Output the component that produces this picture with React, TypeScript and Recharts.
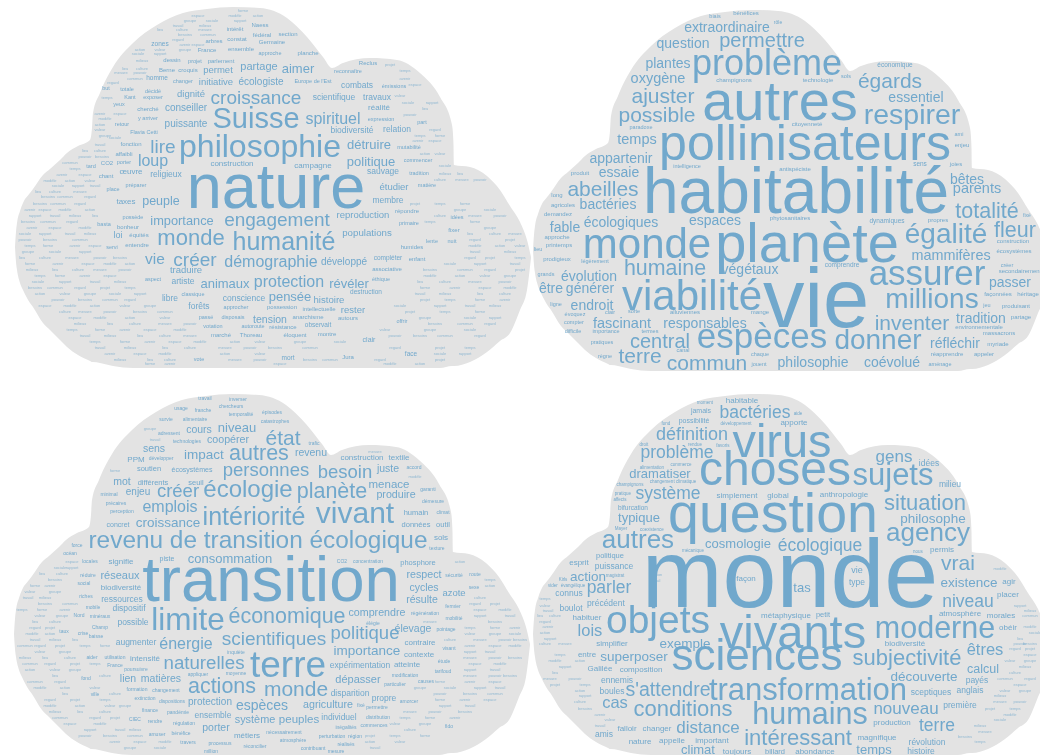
import { Area, AreaChart, Scatter, ScatterChart, XAxis, YAxis } from "recharts";

type WordRow = [string, number, number, number];
type TinyRow = [number, ...number[]];

const WIDTH = 1040;
const HEIGHT = 755;
const CLOUD = "#e3e3e3";
const INK = "#71a8cc";

// cloud outline of the top-left panel: x, upper edge, lower edge
const cloudOutline = [
  [15, 247, 247], [16, 232, 262], [17, 223, 270], [20, 211, 283], [23, 203, 290], [30, 193, 303],
  [33, 189, 307], [43, 175, 323], [50, 169, 330], [60, 160, 340], [67, 153, 347], [78, 146, 355],
  [90, 140, 361], [92, 128, 362], [93, 113, 362], [100, 93, 363], [113, 67, 366], [133, 43, 368],
  [157, 25, 368], [183, 13, 368], [207, 9, 368], [233, 7, 368], [260, 8, 368], [287, 18, 368],
  [307, 37, 368], [323, 57, 368], [332, 68, 368], [343, 63, 368], [370, 58, 368], [397, 60, 368],
  [420, 73, 368], [440, 97, 368], [452, 125, 366], [453.5, 145, 366], [454, 165, 366], [470, 167, 362],
  [487, 176, 352], [500, 190, 341], [510, 206, 333], [520, 222, 310], [527, 240, 290], [531, 257, 258],
];

const cloudOffsets = [
  [0, 0],
  [518, 3],
  [-1, 387],
  [518, 387],
];

const natureWords: WordRow[] = [
  ["nature", 276, 208, 63], ["philosophie", 260, 157, 32], ["Suisse", 256, 128, 29], ["croissance", 256, 104, 19],
  ["humanité", 284, 250, 25], ["engagement", 277, 226, 19], ["monde", 191, 245, 22], ["créer", 195, 266, 19],
  ["démographie", 271, 267, 16], ["protection", 289, 287, 16], ["vie", 155, 264, 15.5], ["lire", 163, 153, 19],
  ["loup", 153, 166, 16], ["spirituel", 333, 124, 16], ["détruire", 369, 149, 13], ["politique", 371, 166, 13],
  ["aimer", 298, 73, 13], ["peuple", 161, 205, 12.5], ["importance", 182, 225, 12.8], ["animaux", 225, 288, 13],
  ["révéler", 349, 288, 13], ["pensée", 290, 301, 13], ["partage", 259, 70, 11], ["permet", 218, 73, 9.5],
  ["initiative", 216, 85, 9.5], ["écologiste", 261, 85, 10], ["dignité", 191, 97, 9.5], ["conseiller", 186, 111, 10],
  ["puissante", 186, 127, 10], ["construction", 232, 166, 8], ["œuvre", 131, 174, 8], ["religieux", 166, 177, 8.5],
  ["taxes", 126, 204, 8], ["combats", 357, 88, 8.5], ["scientifique", 334, 100, 8.5], ["travaux", 377, 100, 8.5],
  ["réalité", 379, 110, 8], ["biodiversité", 352, 133, 8.5], ["relation", 397, 132, 8.5], ["campagne", 313, 168, 8],
  ["sauvage", 383, 174, 8.5], ["étudier", 394, 190, 9.5], ["membre", 388, 203, 8.5], ["reproduction", 363, 218, 9.5],
  ["populations", 367, 236, 9.7], ["développé", 344, 265, 10], ["traduire", 186, 273, 9.5], ["artiste", 183, 284, 8.5],
  ["libre", 170, 301, 8.5], ["conscience", 244, 301, 8.5], ["histoire", 329, 303, 9.6], ["forêts", 199, 309, 8.5],
  ["rester", 353, 313, 9.5], ["tension", 270, 323, 10.5], ["intérêt", 235, 31, 6], ["Naess", 260, 27, 6],
  ["fédéral", 262, 37, 6], ["arbres", 214, 43, 6], ["constat", 237, 41, 6], ["Germaine", 272, 44, 6],
  ["zones", 160, 46, 6.5], ["France", 207, 52, 6], ["ensemble", 241, 51, 6], ["dessin", 172, 62, 6],
  ["projet", 195, 63, 5.5], ["parlement", 221, 63, 6], ["approche", 270, 55, 5.5], ["planche", 308, 55, 6],
  ["Berne", 167, 72, 6], ["croquis", 188, 72, 6], ["homme", 157, 80, 6.5], ["changer", 183, 83, 5.5],
  ["but", 106, 90, 5.5], ["totale", 127, 91, 5.5], ["décidé", 153, 93, 5.5], ["Kant", 130, 99, 5.5],
  ["exposer", 153, 99, 5.5], ["yeux", 119, 106, 5.5], ["cherché", 148, 111, 6], ["y arriver", 148, 120, 5.5],
  ["retour", 122, 126, 5.5], ["Flavia Cetti", 144, 134, 5.5], ["fonction", 131, 146, 6], ["affaibli", 124, 156, 6],
  ["CO2", 107, 165, 6], ["tard", 91, 168, 5.5], ["porter", 124, 164, 5.5], ["chant", 106, 178, 6],
  ["préparer", 136, 187, 5.5], ["place", 113, 191, 5.5], ["section", 288, 36, 6], ["Reclus", 368, 65, 6],
  ["reconnaître", 348, 73, 5.5], ["Europe de l'Est", 313, 83, 5.5], ["émissions", 394, 88, 5.5], ["expression", 381, 121, 5.5],
  ["part", 422, 124, 5.5], ["mutabilité", 409, 149, 5.5], ["commencer", 418, 162, 5.5], ["tradition", 419, 175, 5.5],
  ["matière", 427, 187, 5.5], ["possède", 133, 219, 5.5], ["basta", 104, 226, 5.5], ["bonheur", 128, 229, 6],
  ["loi", 118, 238, 9], ["équités", 139, 237, 6], ["entendre", 137, 247, 6], ["servi", 112, 249, 5.5],
  ["aspect", 153, 281, 5.5], ["classique", 193, 296, 5.5], ["destruction", 366, 294, 6.5], ["approcher", 236, 309, 5.5],
  ["possession", 282, 309, 6], ["intellectuelle", 319, 311, 6], ["passé", 206, 319, 5.5], ["disposais", 233, 319, 5.5],
  ["anarchisme", 308, 319, 6], ["autours", 348, 320, 6], ["votation", 213, 328, 5.5], ["autoroute", 253, 328, 5.5],
  ["résistance", 283, 329, 6], ["observait", 318, 327, 6.5], ["offrir", 402, 323, 5.5], ["marché", 221, 337, 6],
  ["Thoreau", 251, 337, 6], ["éloquent", 295, 337, 6], ["montre", 327, 336, 6], ["clair", 369, 342, 7],
  ["vote", 199, 361, 5.5], ["mort", 288, 360, 6.5], ["Jura", 348, 359, 6], ["face", 411, 356, 6.5],
  ["répondre", 407, 213, 6], ["primaire", 409, 225, 5.5], ["idées", 457, 219, 5.5], ["fixer", 454, 232, 6],
  ["lente", 432, 243, 5.5], ["nuit", 452, 243, 5.5], ["humides", 412, 249, 6], ["compléter", 388, 260, 6.5],
  ["enfant", 417, 261, 6], ["associative", 387, 271, 6], ["éthique", 381, 281, 5.5],
];

const habitabiliteWords: WordRow[] = [
  ["vie", 816, 327, 83], ["habitabilité", 796, 213, 64], ["autres", 780, 120, 56], ["planète", 807, 262, 56],
  ["pollinisateurs", 805, 160, 50], ["viabilité", 692, 310, 42], ["monde", 647, 258, 42], ["problème", 767, 75, 36],
  ["espèces", 762, 348, 35], ["assurer", 927, 285, 35], ["respirer", 912, 124, 28.5], ["donner", 878, 349, 28],
  ["égalité", 946, 243, 28], ["millions", 932, 308, 28], ["humaine", 665, 275, 21.4], ["totalité", 987, 218, 21.5],
  ["fleur", 1015, 237, 21.5], ["égards", 890, 88, 21], ["ajuster", 663, 103, 21], ["possible", 657, 122, 21],
  ["inventer", 912, 330, 21], ["terre", 640, 363, 21], ["commun", 707, 370, 21], ["abeilles", 603, 196, 21],
  ["permettre", 762, 47, 20], ["central", 660, 348, 20], ["mammifères", 951, 260, 14.4], ["extraordinaire", 727, 32, 14],
  ["question", 683, 48, 14], ["plantes", 668, 68, 14], ["oxygène", 658, 83, 14.5], ["essentiel", 916, 102, 14],
  ["temps", 637, 144, 14.5], ["appartenir", 621, 163, 14], ["essaie", 619, 177, 14], ["bêtes", 967, 184, 14],
  ["parents", 977, 193, 14.5], ["bactéries", 608, 209, 14], ["fable", 565, 232, 14], ["écologiques", 621, 227, 14],
  ["espaces", 715, 225, 14], ["végétaux", 750, 274, 14], ["passer", 1010, 287, 14], ["évolution", 589, 281, 14],
  ["être", 551, 293, 14], ["générer", 590, 293, 14], ["endroit", 592, 310, 14], ["fascinant", 622, 328, 14.5],
  ["responsables", 705, 328, 14], ["tradition", 981, 323, 14], ["réfléchir", 955, 348, 14], ["philosophie", 813, 367, 14],
  ["coévolué", 892, 367, 14], ["biais", 715, 18, 5.5], ["bénéfices", 746, 15, 6], ["rôle", 778, 24, 5],
  ["champignons", 734, 82, 6], ["technologie", 818, 82, 6], ["sols", 846, 78, 5.5], ["économique", 895, 67, 6.5],
  ["paradoxe", 641, 129, 5.5], ["citoyenneté", 807, 126, 6], ["ami", 959, 136, 5.5], ["enjeu", 962, 147, 6],
  ["produit", 580, 175, 6], ["intelligence", 687, 168, 5.5], ["antispéciste", 795, 171, 6], ["sens", 920, 166, 6.5],
  ["joies", 956, 166, 6], ["long", 557, 197, 6], ["agricoles", 563, 207, 6], ["demandez", 558, 216, 6],
  ["phytosanitaires", 790, 220, 6], ["dynamiques", 887, 223, 6.5], ["propres", 938, 222, 6], ["fixé", 1027, 217, 5],
  ["construction", 1013, 243, 6], ["écosystèmes", 1014, 253, 6], ["approche", 557, 239, 6], ["printemps", 559, 247, 6],
  ["lieu", 538, 251, 5.5], ["prodigieux", 557, 261, 6], ["légèrement", 595, 263, 5.5], ["comprendre", 842, 267, 6.5],
  ["créer", 1007, 267, 5.5], ["secondairement", 1020, 273, 6], ["grands", 546, 276, 5.5], ["ligne", 556, 306, 5.5],
  ["évoquez", 575, 316, 5.5], ["clair", 610, 314, 5.5], ["sorte", 634, 313, 5.5], ["alluviennes", 685, 314, 6],
  ["mange", 760, 314, 6], ["compter", 574, 324, 5.5], ["difficile", 573, 333, 5.5], ["importance", 606, 333, 5.5],
  ["termes", 650, 333, 5.5], ["façonnées", 998, 296, 6], ["héritage", 1028, 296, 6], ["jeu", 987, 307, 5.5],
  ["produisant", 1016, 308, 6], ["partage", 1021, 319, 6], ["environnementale", 979, 329, 6], ["massacrons", 999, 335, 6],
  ["myriade", 998, 346, 6], ["pratiques", 602, 344, 5.5], ["règne", 605, 358, 5.5], ["chaque", 760, 356, 5.5],
  ["jouent", 759, 366, 5.5], ["réapprendre", 947, 356, 6], ["appeler", 984, 356, 6], ["aménage", 940, 366, 5.5],
  ["canal", 683, 352, 5.5],
];

const transitionWords: WordRow[] = [
  ["transition", 271, 601, 63.5], ["terre", 288, 677, 37], ["limite", 188, 630, 31.5], ["vivant", 355, 523, 30],
  ["intériorité", 254, 525, 25], ["revenu de transition écologique", 258, 548, 24.4], ["écologie", 248, 497, 24],
  ["économique", 287, 623, 21.5], ["actions", 222, 693, 21.5], ["autres", 259, 460, 21.5], ["planète", 332, 498, 21.5],
  ["état", 283, 445, 21], ["monde", 296, 696, 21], ["scientifiques", 274, 645, 19], ["naturelles", 204, 669, 18.7],
  ["personnes", 266, 476, 18.5], ["besoin", 345, 478, 18.5], ["créer", 178, 497, 18.5], ["politique", 365, 639, 18.5],
  ["emplois", 170, 512, 16], ["énergie", 186, 649, 16], ["espèces", 262, 710, 14], ["impact", 204, 459, 13.5],
  ["croissance", 168, 527, 13.5], ["importance", 367, 655, 13.5], ["niveau", 237, 432, 13], ["consommation", 230, 563, 13],
  ["menace", 389, 488, 11.5], ["peuples", 299, 723, 11.5], ["réseaux", 120, 579, 11], ["dépasser", 358, 683, 11],
  ["coopérer", 228, 443, 10.7], ["produire", 396, 498, 10.7], ["respect", 424, 578, 10.7], ["comprendre", 377, 616, 10.7],
  ["agriculture", 328, 708, 10.7], ["cours", 199, 433, 10.5], ["sens", 154, 452, 10.5], ["revenu", 311, 456, 10.5],
  ["juste", 388, 472, 10.5], ["mot", 122, 485, 10.5], ["cycles", 424, 591, 10.5], ["résulte", 422, 603, 10.5],
  ["élevage", 413, 632, 10.5], ["lien", 128, 682, 10.5], ["matières", 161, 682, 10.5], ["porter", 216, 731, 10.5],
  ["enjeu", 138, 495, 10], ["protection", 210, 705, 10], ["système", 255, 723, 10.9], ["azote", 454, 596, 9.5],
  ["PPM", 136, 462, 8], ["construction", 362, 460, 8], ["textile", 399, 460, 8], ["soutien", 149, 471, 7.5],
  ["écosystèmes", 192, 472, 7], ["différents", 153, 485, 7.5], ["seuil", 196, 485, 7.5], ["humain", 416, 515, 7.5],
  ["concret", 118, 527, 7], ["données", 416, 527, 7.5], ["outil", 443, 527, 7.5], ["sols", 441, 540, 8],
  ["signifie", 121, 564, 8], ["piste", 167, 561, 7], ["phosphore", 418, 565, 7.5], ["biodiversité", 121, 590, 8],
  ["ressources", 122, 602, 8.5], ["dispositif", 129, 611, 8.5], ["possible", 133, 625, 8.5], ["augmenter", 136, 645, 8.5],
  ["contraire", 420, 645, 8], ["contexte", 419, 657, 8], ["intensité", 145, 661, 8], ["expérimentation", 360, 668, 8.5],
  ["atteinte", 407, 667, 8], ["disparition", 350, 696, 8.5], ["propre", 384, 701, 8.5], ["ensemble", 213, 718, 8.5],
  ["individuel", 339, 720, 8.5], ["métiers", 247, 738, 8], ["travail", 205, 400, 5], ["inverser", 238, 401, 5],
  ["chercheurs", 231, 408, 5], ["usage", 181, 410, 5], ["franche", 203, 412, 5], ["temporalité", 241, 416, 5],
  ["épisodes", 272, 414, 5], ["survie", 166, 421, 5], ["alimentaire", 195, 421, 5], ["catastrophes", 275, 423, 5],
  ["adressent", 169, 435, 5], ["technologies", 187, 443, 5], ["trafic", 314, 445, 5], ["développer", 161, 460, 5],
  ["accord", 414, 469, 5], ["garanti", 428, 491, 5], ["minimal", 109, 496, 5], ["démesure", 433, 503, 5],
  ["précaires", 116, 505, 5], ["perception", 122, 513, 5], ["climat", 443, 514, 5], ["force", 77, 547, 5],
  ["texture", 437, 550, 5], ["océan", 70, 555, 5], ["locales", 90, 563, 5], ["CO2", 342, 563, 5],
  ["concentration", 368, 563, 5], ["réduire", 88, 577, 5], ["sécurité", 454, 577, 5], ["route", 475, 576, 5],
  ["social", 84, 585, 5], ["riches", 86, 598, 5], ["sexe", 474, 589, 5], ["mobile", 93, 609, 5],
  ["fermier", 453, 608, 5], ["Nord", 79, 617, 5], ["minéraux", 100, 618, 5], ["régénération", 425, 615, 5],
  ["mobilité", 454, 620, 5], ["élégie", 373, 625, 5], ["Champ", 100, 629, 5], ["pointage", 446, 631, 5],
  ["taux", 64, 633, 5], ["crise", 83, 635, 5], ["baisse", 96, 638, 5], ["visant", 449, 650, 5],
  ["inquiète", 236, 654, 5], ["aider", 92, 659, 5], ["utilisation", 115, 659, 5], ["étude", 444, 663, 5],
  ["France", 115, 667, 5], ["poursuivre", 136, 671, 5], ["tarifoud", 443, 673, 5], ["appliquer", 198, 676, 5],
  ["moyenne", 236, 675, 5], ["modification", 405, 677, 5], ["fond", 86, 680, 5], ["causes", 426, 683, 5],
  ["particulier", 395, 686, 5], ["formation", 137, 691, 5], ["changement", 166, 692, 5], ["ville", 95, 696, 5],
  ["extinction", 145, 700, 5], ["amorcer", 409, 703, 5], ["dispositions", 172, 703, 5], ["fixé", 361, 707, 5],
  ["permettre", 377, 709, 5], ["finance", 150, 712, 5], ["pandémie", 178, 714, 5], ["distribution", 378, 719, 5],
  ["CIEC", 135, 721, 5], ["rendre", 155, 723, 5], ["régulation", 184, 725, 5], ["commences", 374, 727, 5],
  ["fido", 449, 728, 5], ["inégalités", 346, 729, 5], ["nécessairement", 284, 734, 5], ["bénéfice", 181, 735, 5],
  ["amuser", 157, 736, 5], ["perturbation", 332, 738, 5], ["région", 355, 738, 5], ["atmosphère", 293, 742, 5],
  ["travers", 188, 744, 5], ["processus", 220, 745, 5], ["réalisés", 346, 746, 5], ["réconcilier", 255, 748, 5],
  ["contribuant", 313, 750, 5], ["million", 211, 753, 5], ["mesure", 336, 753, 5],
];

const mondeWords: WordRow[] = [
  ["monde", 790, 607, 97], ["question", 773, 532, 55.5], ["choses", 775, 485, 48], ["virus", 782, 457, 47],
  ["vivants", 793, 648, 47], ["sciences", 757, 670, 44], ["objets", 658, 633, 39], ["transformation", 808, 700, 31],
  ["sujets", 893, 485, 31], ["moderne", 935, 638, 30.5], ["humains", 810, 724, 30.5], ["agency", 928, 541, 26],
  ["autres", 638, 548, 26], ["situation", 925, 510, 22], ["subjectivité", 907, 665, 22], ["conditions", 683, 716, 22],
  ["intéressant", 798, 745, 22], ["vrai", 958, 570, 21], ["s'attendre", 668, 696, 19.5], ["définition", 692, 440, 18],
  ["bactéries", 755, 418, 17.5], ["problème", 677, 458, 17.5], ["système", 668, 499, 17.5], ["écologique", 820, 551, 17.5],
  ["parler", 609, 593, 17.5], ["niveau", 968, 607, 17.5], ["terre", 937, 731, 17.5], ["gens", 894, 462, 17],
  ["nouveau", 906, 714, 17], ["distance", 708, 733, 17], ["lois", 590, 636, 16.5], ["êtres", 985, 655, 16.5],
  ["cas", 615, 708, 16.5], ["action", 588, 581, 13.5], ["philosophe", 933, 523, 13.5], ["exemple", 685, 648, 13.5],
  ["superposer", 634, 661, 13.5], ["découverte", 924, 681, 13.5], ["dramatiser", 660, 478, 13], ["typique", 639, 522, 13],
  ["cosmologie", 738, 548, 13], ["tas", 802, 592, 13], ["climat", 698, 754, 13], ["temps", 874, 754, 13],
  ["existence", 969, 587, 13.5], ["calcul", 983, 673, 12.5], ["idées", 929, 466, 8.5], ["milieu", 950, 487, 8.5],
  ["connus", 569, 596, 8.5], ["précédent", 606, 606, 8.5], ["boulot", 571, 611, 8.5], ["puissance", 614, 569, 8.5],
  ["vie", 857, 573, 9], ["ennemis", 617, 683, 8.5], ["payés", 977, 683, 8.5], ["boules", 612, 694, 8.5],
  ["sceptiques", 931, 695, 8.5], ["anglais", 970, 693, 8.5], ["première", 960, 708, 8.5], ["amis", 604, 737, 8.5],
  ["révolution", 927, 745, 8.5], ["histoire", 921, 754, 8.5], ["habitable", 742, 403, 8], ["apporte", 794, 425, 8],
  ["simplement", 737, 498, 8], ["global", 778, 498, 8], ["anthropologie", 844, 497, 8], ["permis", 942, 552, 8],
  ["esprit", 579, 565, 8], ["façon", 746, 581, 8], ["type", 857, 585, 8.5], ["agir", 1009, 584, 8],
  ["placer", 1008, 597, 8], ["atmosphère", 960, 616, 8], ["morales", 1001, 618, 8], ["habituer", 587, 620, 8],
  ["métaphysique", 786, 618, 8], ["obéir", 1008, 630, 8], ["simplifier", 612, 646, 8], ["biodiversité", 905, 646, 8],
  ["entre", 587, 657, 8], ["Galilée", 600, 671, 8], ["composition", 641, 672, 8], ["production", 892, 725, 8],
  ["falloir", 627, 731, 8], ["changer", 657, 731, 8], ["nature", 640, 744, 8], ["appelle", 672, 743, 8],
  ["important", 712, 743, 8], ["magnifique", 877, 740, 8], ["toujours", 737, 754, 8], ["abondance", 815, 754, 8],
  ["politique", 610, 558, 7.5], ["petit", 823, 617, 7.5], ["billard", 775, 754, 7.5], ["jamais", 701, 413, 7],
  ["possibilité", 694, 423, 7], ["bifurcation", 633, 510, 6.5], ["moment", 705, 404, 4.5], ["aide", 798, 415, 4.5],
  ["fond", 666, 425, 4.5], ["développement", 736, 425, 4.5], ["droit", 644, 446, 4.5], ["rendue", 695, 446, 4.5],
  ["favoris", 723, 447, 4.5], ["alimentation", 652, 469, 4.5], ["commerce", 681, 466, 4.5], ["changement climatique", 673, 483, 4.5],
  ["champignons", 630, 486, 4.5], ["pratique", 623, 495, 4.5], ["affects", 620, 501, 4.5], ["Mayer", 621, 530, 4.5],
  ["coexistence", 652, 531, 4.5], ["mécanique", 693, 552, 4.5], ["nous", 918, 553, 4.5], ["Kirls", 563, 581, 4.5],
  ["magistrat", 615, 577, 4.5], ["vider", 553, 587, 4.5], ["évangélique", 573, 587, 4.5],
];

const fillerWords = [
  "projet", "temps", "forme", "avenir", "espace", "modèle", "action", "valeur", "groupe", "sociale",
  "rapport", "travail", "milieux", "lieu", "culture", "mesure", "pouvoir", "besoins", "commun", "regard",
];

// small illegible words of each cloud: row y, then x of each word
const natureTiny: TinyRow[] = [
  [12, 205, 222, 243], [17, 178, 198, 235, 258], [22, 158, 190, 212, 240], [27, 178, 205], [31, 160, 182, 205],
  [36, 147, 185, 208], [41, 178, 200], [46, 135, 148, 185, 198], [51, 125, 140, 160, 185], [55, 138, 160],
  [62, 125, 142], [70, 125, 142], [74, 121, 140], [80, 115, 135], [84, 113], [91, 113], [99, 107], [108, 97],
  [115, 100, 120], [120, 105], [126, 100], [131, 100], [137, 105], [139, 115, 175], [146, 100, 112], [152, 85, 100],
  [158, 72, 85, 102], [164, 70, 95], [170, 55, 75, 95], [176, 62, 85], [182, 50, 70, 90], [187, 42, 58, 78, 95, 110],
  [193, 38, 55, 80], [198, 30, 48, 65, 90], [66, 390], [72, 405], [80, 420, 405], [86, 415, 430], [90, 425],
  [97, 400, 435], [104, 408, 432, 445], [110, 395, 425, 438], [116, 445, 410], [124, 433, 445], [131, 435, 447],
  [137, 420, 440], [142, 418, 435, 447], [155, 425, 440], [160, 430], [167, 445, 455], [170, 470], [175, 445, 460],
  [181, 440, 462, 480], [205, 40, 58, 80, 415, 440, 465], [211, 30, 45, 65, 90, 425, 460, 490],
  [217, 35, 55, 75, 95, 440, 475, 500], [223, 28, 48, 72, 105, 430, 475], [229, 32, 55, 85, 440, 465, 490],
  [235, 25, 45, 70, 90, 470, 495, 515], [241, 25, 50, 80, 475, 510], [247, 30, 48, 75, 95, 475, 500, 520],
  [253, 28, 55, 85, 475, 510], [259, 22, 45, 72, 100, 120, 430, 470, 490, 520],
  [265, 30, 58, 88, 110, 130, 150, 430, 450, 480, 515], [271, 32, 55, 78, 100, 125, 430, 465, 490, 520],
  [277, 40, 60, 85, 110, 430, 460, 485, 510], [283, 38, 65, 95, 120, 420, 445, 475, 505],
  [289, 35, 55, 80, 105, 130, 425, 455, 485, 510], [295, 40, 65, 90, 115, 140, 420, 445, 480, 505],
  [301, 32, 58, 85, 110, 130, 425, 450, 480, 505], [307, 45, 70, 95, 125, 150, 400, 440, 470, 495],
  [313, 40, 65, 85, 110, 140, 165, 370, 410, 445, 480], [319, 45, 75, 100, 130, 165, 425, 470, 495],
  [325, 50, 80, 110, 135, 165, 190, 435, 465, 490], [331, 50, 72, 100, 125, 150, 180, 340, 385, 430, 470],
  [337, 60, 85, 110, 140, 165, 190, 395, 420, 445, 480], [343, 65, 95, 125, 150, 175, 200, 235, 260, 300, 340],
  [349, 72, 100, 130, 165, 190, 225, 250, 275, 310, 395, 440, 470], [355, 80, 110, 140, 165, 225, 260, 360, 440, 465],
  [361, 95, 120, 150, 170, 235, 260, 310, 330, 380, 440, 470], [365, 150, 170, 280, 390, 420],
];

const habitabiliteTiny: TinyRow[] = [
  [54, 690, 705], [72, 652], [88, 700], [92, 890, 940], [96, 955], [106, 870, 915, 950], [110, 895], [128, 870, 935],
  [133, 815, 905], [172, 900, 922], [178, 920], [185, 700, 740], [172, 705, 735, 845], [194, 768], [232, 745, 770],
  [256, 800, 830], [272, 665, 705, 790], [280, 700, 880], [286, 722, 745], [296, 895, 915], [316, 880, 905], [320, 838, 870],
  [338, 836], [344, 872], [352, 740, 800, 845], [356, 710],
];

const transitionTiny: TinyRow[] = [
  [393, 205], [402, 180], [410, 160], [416, 150, 222], [423, 140, 225], [430, 133, 150], [437, 130], [441, 130, 155],
  [447, 125, 170], [453, 120, 375, 405], [459, 110], [462, 435], [466, 110, 125], [470, 425], [472, 115], [478, 105, 120, 415, 440],
  [484, 445], [490, 100], [503, 95], [510, 95], [516, 95], [525, 92], [532, 90], [553, 60, 90, 450, 475], [558, 55, 75, 440, 465, 490],
  [563, 50, 72, 435, 460, 480], [569, 45, 60, 72, 490, 500], [575, 42, 62, 495], [581, 35, 55, 100, 440, 470, 490],
  [587, 35, 50, 70, 445, 490], [593, 30, 55, 475, 500], [599, 28, 45, 455, 480, 505], [605, 25, 45, 70, 475, 495],
  [611, 22, 42, 65, 480, 505], [617, 20, 40, 62, 80, 480, 510], [623, 20, 35, 55, 430, 470, 495], [629, 18, 35, 50, 470, 495, 515],
  [635, 18, 32, 50, 470, 495, 515], [641, 20, 35, 55, 75, 450, 480, 505, 520], [647, 25, 40, 60, 85, 105, 470, 495, 515],
  [653, 20, 40, 65, 440, 470, 490], [659, 25, 45, 70, 470, 495, 515], [665, 30, 50, 75, 95, 420, 445, 475, 500],
  [671, 30, 55, 75, 100, 470, 495], [677, 30, 55, 105, 470, 495, 510], [683, 35, 60, 85, 115, 440, 470, 495],
  [689, 40, 65, 95, 420, 450, 480, 500], [695, 40, 65, 115, 400, 440, 470, 495], [701, 50, 75, 105, 440, 465, 490],
  [707, 50, 80, 110, 125, 420, 445, 470], [713, 55, 80, 105, 410, 435, 465], [719, 60, 95, 115, 405, 430, 455],
  [725, 70, 100, 125, 395, 425, 450], [731, 90, 120, 135, 385, 410, 440], [737, 85, 110, 135, 155, 370, 395, 425],
  [743, 115, 140, 165, 370, 400], [749, 130, 160, 350, 375],
];

const mondeTiny: TinyRow[] = [
  [570, 660, 690, 740, 805, 895, 1000], [576, 657, 688, 742, 803, 1015], [582, 655, 688, 1025], [588, 657, 690, 905],
  [594, 658, 690, 800, 895], [600, 545, 575, 660, 692, 770, 800], [607, 545, 663, 695, 1020], [612, 548, 1030],
  [617, 540, 555, 725, 855, 905, 1030], [623, 545, 565, 625, 860], [628, 548, 568, 1030], [634, 545, 570, 1015, 1035],
  [640, 550, 570, 620, 1020], [645, 545, 565, 1020, 1030], [650, 540, 1015, 1030], [656, 560, 575, 1010, 1030],
  [662, 555, 580, 1010, 1030], [668, 545, 565, 1000, 1025], [674, 555, 1015], [680, 550, 575, 875, 1005, 1030],
  [686, 555, 585, 720, 800, 1020], [692, 555, 580, 1005, 1025], [697, 558, 585, 655, 1000], [703, 555, 580, 1000, 1020],
  [710, 585, 755, 820, 990, 1015], [716, 570, 600, 770, 1010], [721, 575, 610, 960, 1000], [727, 575, 600, 980],
  [733, 585, 800, 985], [738, 610, 965, 1000], [743, 640, 670, 980],
];

const panels = [
  { words: natureWords, tiny: natureTiny, offset: cloudOffsets[0] },
  { words: habitabiliteWords, tiny: habitabiliteTiny, offset: cloudOffsets[1] },
  { words: transitionWords, tiny: transitionTiny, offset: cloudOffsets[2] },
  { words: mondeWords, tiny: mondeTiny, offset: cloudOffsets[3] },
];

const toPoints = (rows: WordRow[]) => rows.map(([word, x, y, size]) => ({ word, x, y, size, faint: false }));

// rough box of a word, good enough to see whether a small word would collide
const boxOf = (x: number, y: number, size: number, word: string) => {
  const half = (word.length * size * 0.52) / 2;
  return { l: x - half, r: x + half, t: y - size * 0.75, b: y + size * 0.22 };
};

const insideCloud = (x: number, y: number, offset: number[]) => {
  const [dx, dy] = offset;
  const i = cloudOutline.findIndex(([cx]) => cx + dx >= x);
  if (i <= 0) return false;
  const [x0, t0, b0] = cloudOutline[i - 1];
  const [x1, t1, b1] = cloudOutline[i];
  const f = (x - dx - x0) / (x1 - x0);
  return y - 4 > t0 + (t1 - t0) * f + dy && y + 2 < b0 + (b1 - b0) * f + dy;
};

const buildSeries = ({ words, tiny, offset }: (typeof panels)[number]) => {
  const named = toPoints(words);
  const boxes = named.map((p) => boxOf(p.x, p.y, p.size, p.word));
  const small = tiny
    .flatMap(([y, ...xs]) => xs.map((x) => ({ x, y })))
    .map((p, i) => ({ ...p, size: 4, faint: true, word: fillerWords[i % fillerWords.length] }))
    .filter((p) => {
      const b = boxOf(p.x, p.y, p.size, p.word);
      if (!insideCloud(b.l, p.y, offset) || !insideCloud(b.r, p.y, offset)) return false;
      return !boxes.some((o) => b.l < o.r && b.r > o.l && b.t < o.b && b.b > o.t);
    });
  return [...small, ...named];
};

const wordSeries = panels.map(buildSeries);

function WordShape(props: any) {
  const { cx, cy, payload } = props;
  return (
    <text
      x={cx}
      y={cy}
      textAnchor="middle"
      fontSize={payload.size}
      fill={INK}
      fillOpacity={payload.faint ? 0.7 : 1}
      fontFamily="'Liberation Sans', Arial, sans-serif"
    >
      {payload.word}
    </text>
  );
}

const layer = { position: "absolute" as const, left: 0, top: 0 };
const margin = { top: 0, right: 0, bottom: 0, left: 0 };

export default function App() {
  return (
    <div style={{ position: "absolute", left: 0, top: 0, width: WIDTH, height: HEIGHT, overflow: "hidden", background: "#fff", filter: "blur(0.45px)" }}>
      {cloudOffsets.map(([dx, dy], i) => (
        <div key={i} style={layer}>
          <AreaChart
            width={WIDTH}
            height={HEIGHT}
            margin={margin}
            data={cloudOutline.map(([x, top, bottom]) => ({ x: x + dx, edge: [top + dy, bottom + dy] }))}
          >
            <XAxis type="number" dataKey="x" domain={[0, WIDTH]} allowDataOverflow hide />
            <YAxis type="number" domain={[0, HEIGHT]} reversed allowDataOverflow hide />
            <Area dataKey="edge" type="monotone" stroke="none" fill={CLOUD} fillOpacity={1} isAnimationActive={false} />
          </AreaChart>
        </div>
      ))}
      <div style={layer}>
        <ScatterChart width={WIDTH} height={HEIGHT} margin={margin}>
          <XAxis type="number" dataKey="x" domain={[0, WIDTH]} hide />
          <YAxis type="number" dataKey="y" domain={[0, HEIGHT]} reversed hide />
          {wordSeries.map((data, i) => (
            <Scatter key={i} data={data} shape={WordShape} isAnimationActive={false} />
          ))}
        </ScatterChart>
      </div>
    </div>
  );
}
